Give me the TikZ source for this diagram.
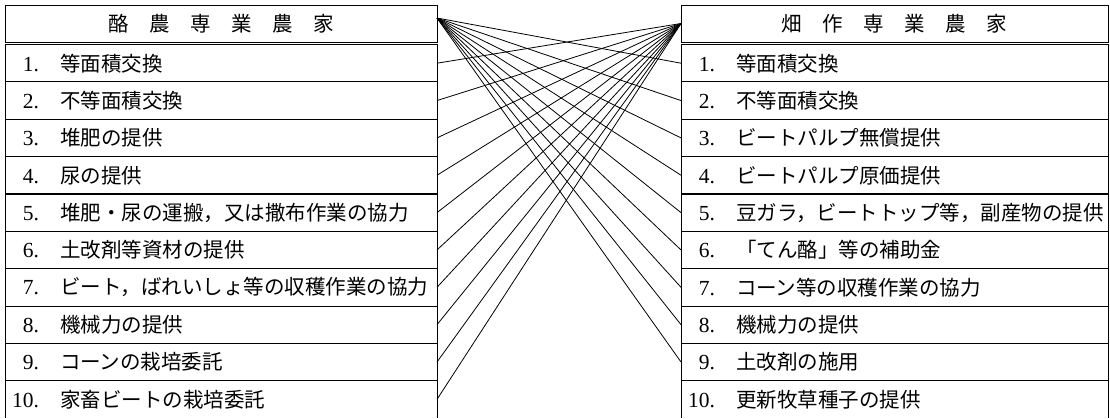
\documentclass[tikz,border=0pt]{standalone}
\usepackage{fontspec}
\newfontfamily\jp{Noto Sans CJK JP}
\newfontfamily\digits{Liberation Serif}
\usetikzlibrary{positioning}
\tikzset{
  headbox/.style={draw, line width=1pt, outer sep=0pt, inner sep=0pt,
    minimum height=37pt, font=\jp\fontsize{20.5}{22}\selectfont},
  rowbox/.style={draw, line width=0.9pt, outer sep=0pt, inner sep=0pt,
    minimum height=37.4pt, text width=#1, align=left},
  fan/.style={line width=0.8pt}
}
\newcommand{\rowtext}[2]{\makebox[34pt][r]{\digits\fontsize{21.5}{22}\selectfont #1.}\hspace{21pt}{\jp\fontsize{20.5}{22}\selectfont #2}}
\begin{document}
\begin{tikzpicture}[x=1pt, y=1pt]
  \useasboundingbox (0,0) rectangle (1110,-418);
  \clip (0,0) rectangle (1110,-417.4);

  % dairy farms
  \node[headbox, minimum width=432pt, anchor=north west] (lhead) at (5,-5)
    {酪　農　専　業　農　家};
  \foreach \i/\t in {1/等面積交換, 2/不等面積交換, 3/堆肥の提供, 4/尿の提供,
      5/堆肥・尿の運搬，又は撒布作業の協力, 6/土改剤等資材の提供,
      7/ビート，ばれいしょ等の収穫作業の協力, 8/機械力の提供,
      9/コーンの栽培委託, 10/家畜ビートの栽培委託}
    \node[rowbox=432pt, anchor=north west] (l\i) at (5,{-44.5-(\i-1)*37.35})
      {\rowtext{\i}{\t}};

  % crop farms
  \node[headbox, minimum width=427pt, anchor=north west] (rhead) at (681,-5)
    {畑　作　専　業　農　家};
  \foreach \i/\t in {1/等面積交換, 2/不等面積交換, 3/ビートパルプ無償提供,
      4/ビートパルプ原価提供, 5/豆ガラ，ビートトップ等，副産物の提供,
      6/「てん酪」等の補助金, 7/コーン等の収穫作業の協力, 8/機械力の提供,
      9/土改剤の施用, 10/更新牧草種子の提供}
    \node[rowbox=427pt, anchor=north west] (r\i) at (681,{-44.5-(\i-1)*37.35})
      {\rowtext{\i}{\t}};

  % exchanges
  \foreach \i in {1,...,9}
    \draw[fan] ([yshift=5.5pt]lhead.east) -- (r\i.west);
  \foreach \i in {1,...,10}
    \draw[fan] (rhead.west) -- (l\i.east);
\end{tikzpicture}
\end{document}
